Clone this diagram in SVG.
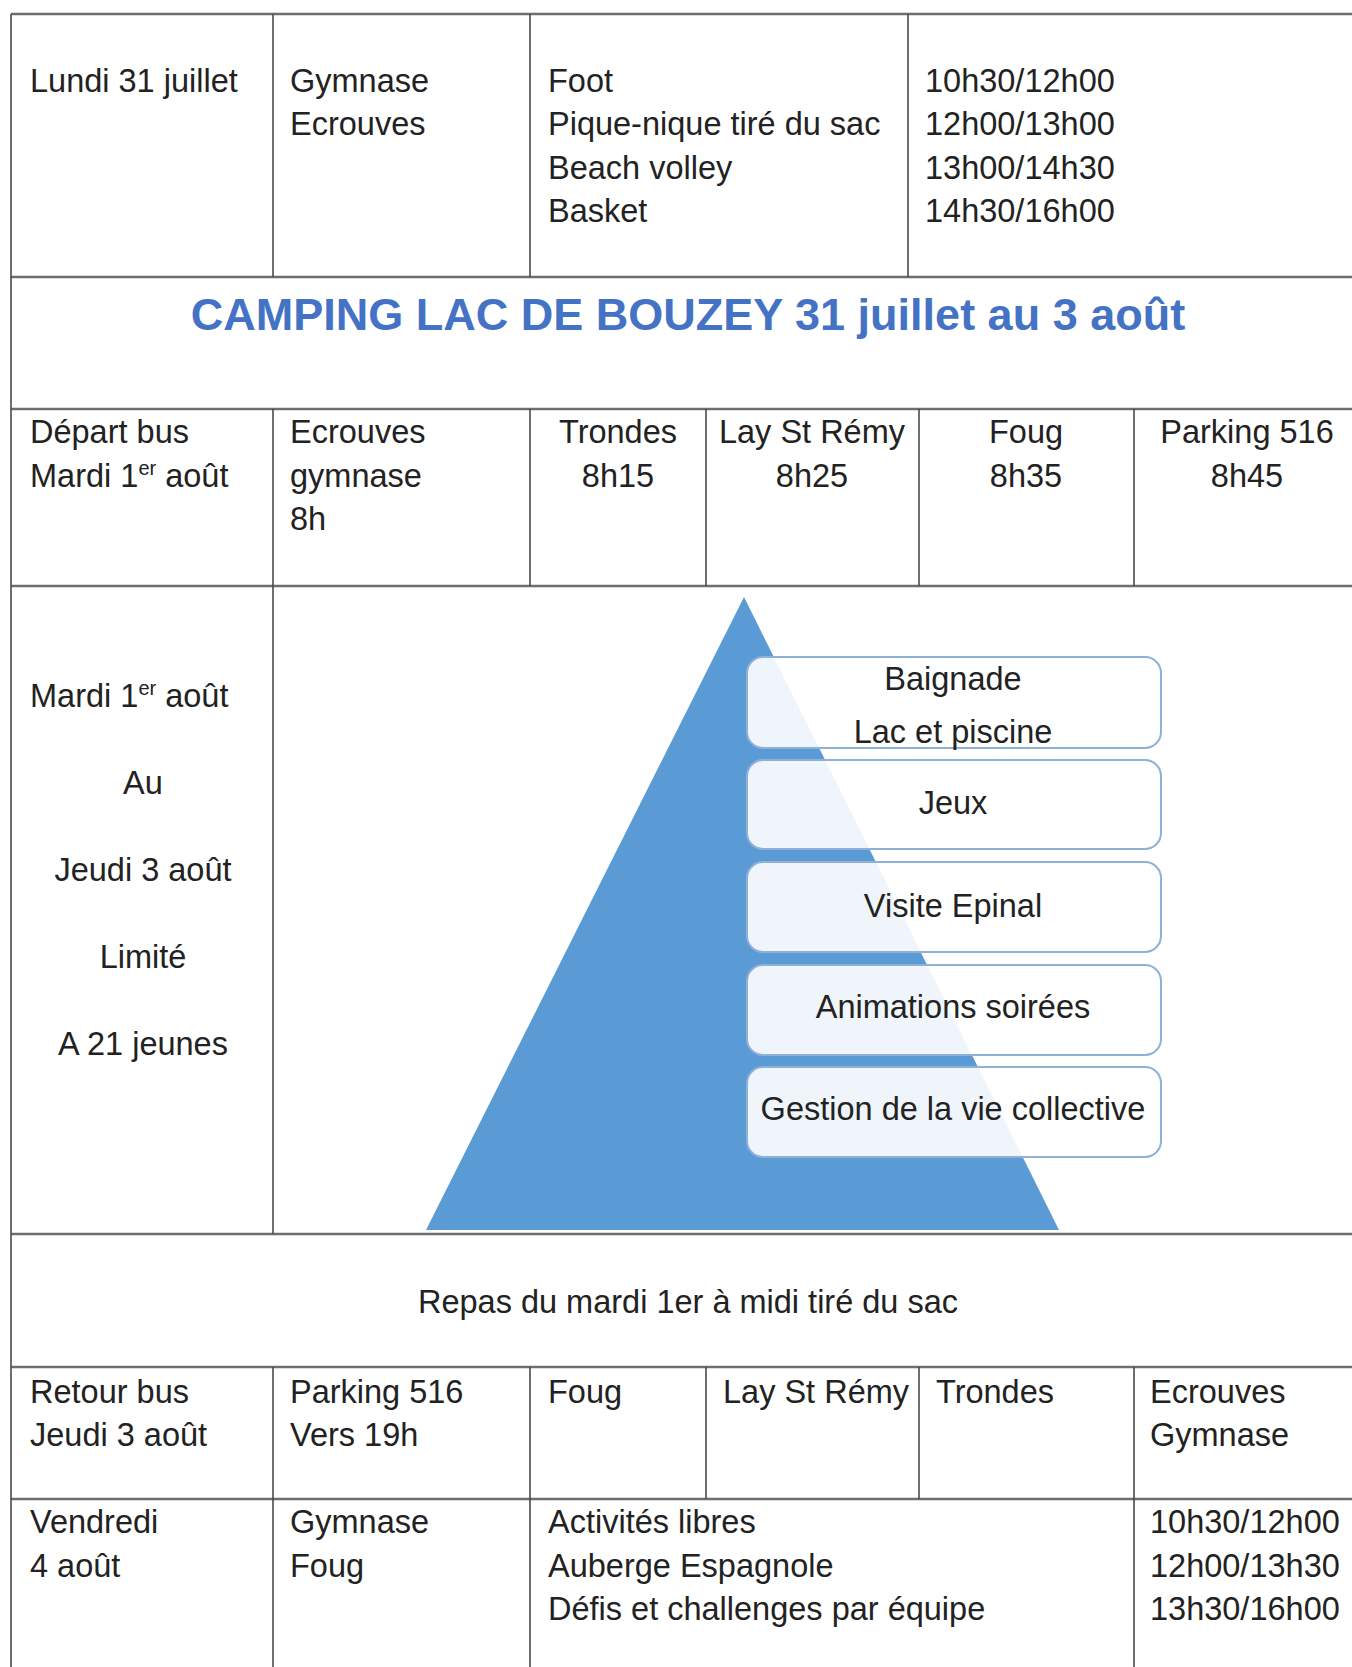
<svg xmlns="http://www.w3.org/2000/svg" width="1352" height="1667" viewBox="0 0 1352 1667">
<style>
text{font-family:"Liberation Sans",Arial,sans-serif;font-size:32.5px;fill:#222}
.c{text-anchor:middle}
.title{font-weight:bold;font-size:45px;fill:#4472C4;text-anchor:middle}
.sup{font-size:20px}
.h{stroke:#6e6e6e;stroke-width:2.5}
.v{stroke:#4a4a4a;stroke-width:1.6}
.box{fill:#ffffff;fill-opacity:0.9;stroke:#8fb0d8;stroke-width:2}
</style>
<rect width="1352" height="1667" fill="#fff"/>
<g id="grid">
<line class="h" x1="11" y1="14" x2="1352" y2="14"/>
<line class="h" x1="11" y1="277" x2="1352" y2="277"/>
<line class="h" x1="11" y1="409" x2="1352" y2="409"/>
<line class="h" x1="11" y1="586" x2="1352" y2="586"/>
<line class="h" x1="11" y1="1234" x2="1352" y2="1234"/>
<line class="h" x1="11" y1="1367" x2="1352" y2="1367"/>
<line class="h" x1="11" y1="1499" x2="1352" y2="1499"/>
<line class="v" x1="11" y1="14" x2="11" y2="1667"/>
<line class="v" x1="273" y1="14" x2="273" y2="277"/>
<line class="v" x1="530" y1="14" x2="530" y2="277"/>
<line class="v" x1="908" y1="14" x2="908" y2="277"/>
<line class="v" x1="273" y1="409" x2="273" y2="1234"/>
<line class="v" x1="530" y1="409" x2="530" y2="586"/>
<line class="v" x1="706" y1="409" x2="706" y2="586"/>
<line class="v" x1="919" y1="409" x2="919" y2="586"/>
<line class="v" x1="1134" y1="409" x2="1134" y2="586"/>
<line class="v" x1="273" y1="1367" x2="273" y2="1667"/>
<line class="v" x1="530" y1="1367" x2="530" y2="1667"/>
<line class="v" x1="706" y1="1367" x2="706" y2="1499"/>
<line class="v" x1="919" y1="1367" x2="919" y2="1499"/>
<line class="v" x1="1134" y1="1367" x2="1134" y2="1667"/>
</g>
<g id="row-lundi">
<text x="30" y="92">Lundi 31 juillet</text>
<text x="290" y="92">Gymnase</text>
<text x="290" y="135">Ecrouves</text>
<text x="548" y="92">Foot</text>
<text x="548" y="135">Pique-nique tiré du sac</text>
<text x="548" y="179">Beach volley</text>
<text x="548" y="222">Basket</text>
<text x="925" y="92">10h30/12h00</text>
<text x="925" y="135">12h00/13h00</text>
<text x="925" y="179">13h00/14h30</text>
<text x="925" y="222">14h30/16h00</text>
</g>
<g id="title">
<text class="title" x="688" y="330">CAMPING LAC DE BOUZEY 31 juillet au 3 août</text>
</g>
<g id="row-depart">
<text x="30" y="443">Départ bus</text>
<text x="30" y="487">Mardi 1<tspan class="sup" dy="-12">er</tspan><tspan dy="12"> août</tspan></text>
<text x="290" y="443">Ecrouves</text>
<text x="290" y="487">gymnase</text>
<text x="290" y="530">8h</text>
<text class="c" x="618" y="443">Trondes</text>
<text class="c" x="618" y="487">8h15</text>
<text class="c" x="812" y="443">Lay St Rémy</text>
<text class="c" x="812" y="487">8h25</text>
<text class="c" x="1026" y="443">Foug</text>
<text class="c" x="1026" y="487">8h35</text>
<text class="c" x="1247" y="443">Parking 516</text>
<text class="c" x="1247" y="487">8h45</text>
</g>
<g id="row-sejour">
<text x="30" y="707">Mardi 1<tspan class="sup" dy="-12">er</tspan><tspan dy="12"> août</tspan></text>
<text class="c" x="143" y="794">Au</text>
<text class="c" x="143" y="881">Jeudi 3 août</text>
<text class="c" x="143" y="968">Limité</text>
<text class="c" x="143" y="1055">A 21 jeunes</text>
</g>
<g id="pyramid">
<polygon points="744,597 1059,1230 426,1230" fill="#5B9BD5"/>
</g>
<g id="box-baignade">
<rect class="box" x="747" y="657" width="414" height="91" rx="16"/>
<text class="c" x="953" y="690">Baignade</text>
<text class="c" x="953" y="743">Lac et piscine</text>
</g>
<g id="box-jeux">
<rect class="box" x="747" y="760" width="414" height="89" rx="16"/>
<text class="c" x="953" y="814">Jeux</text>
</g>
<g id="box-epinal">
<rect class="box" x="747" y="862" width="414" height="90" rx="16"/>
<text class="c" x="953" y="917">Visite Epinal</text>
</g>
<g id="box-animations">
<rect class="box" x="747" y="965" width="414" height="90" rx="16"/>
<text class="c" x="953" y="1018">Animations soirées</text>
</g>
<g id="box-gestion">
<rect class="box" x="747" y="1067" width="414" height="90" rx="16"/>
<text class="c" x="953" y="1120">Gestion de la vie collective</text>
</g>
<g id="row-repas">
<text class="c" x="688" y="1313">Repas du mardi 1er à midi tiré du sac</text>
</g>
<g id="row-retour">
<text x="30" y="1403">Retour bus</text>
<text x="30" y="1446">Jeudi 3 août</text>
<text x="290" y="1403">Parking 516</text>
<text x="290" y="1446">Vers 19h</text>
<text x="548" y="1403">Foug</text>
<text x="723" y="1403">Lay St Rémy</text>
<text x="936" y="1403">Trondes</text>
<text x="1150" y="1403">Ecrouves</text>
<text x="1150" y="1446">Gymnase</text>
</g>
<g id="row-vendredi">
<text x="30" y="1533">Vendredi</text>
<text x="30" y="1577">4 août</text>
<text x="290" y="1533">Gymnase</text>
<text x="290" y="1577">Foug</text>
<text x="548" y="1533">Activités libres</text>
<text x="548" y="1577">Auberge Espagnole</text>
<text x="548" y="1620">Défis et challenges par équipe</text>
<text x="1150" y="1533">10h30/12h00</text>
<text x="1150" y="1577">12h00/13h30</text>
<text x="1150" y="1620">13h30/16h00</text>
</g>
</svg>
